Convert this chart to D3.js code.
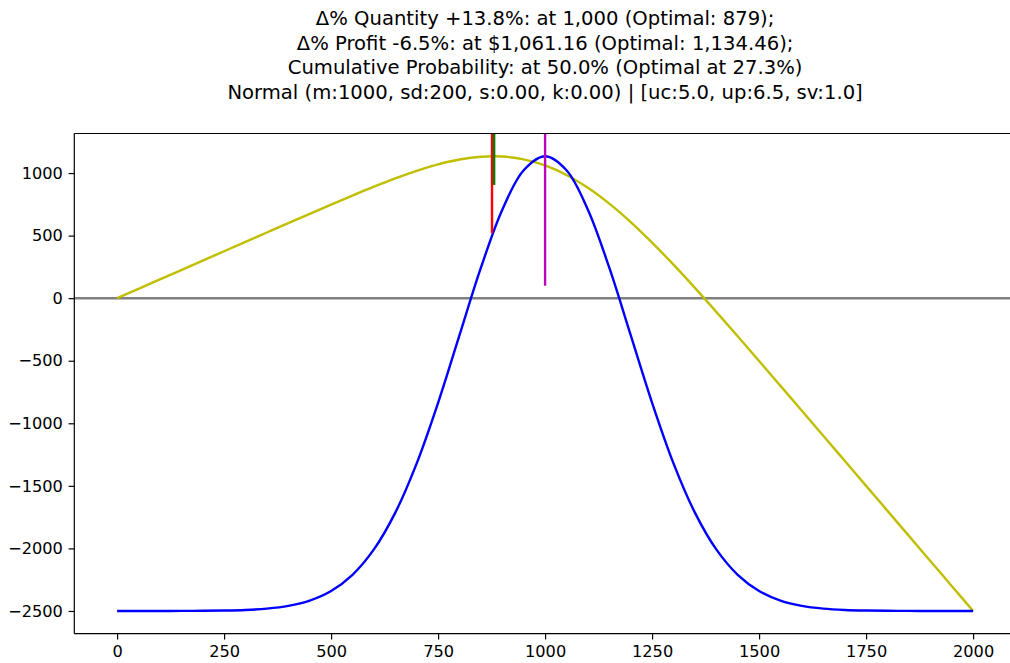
<!DOCTYPE html>
<html>
<head>
<meta charset="utf-8">
<script src="https://cdn.jsdelivr.net/npm/d3@7/dist/d3.min.js"></script>
<style>
  html, body { margin: 0; padding: 0; background: #fff; }
  svg { display: block; font-family: "DejaVu Sans", sans-serif; }
</style>
</head>
<body>
<svg id="chart" width="1010" height="663"></svg>
<script>
// ---- data ----
const titleLines = [
  "\u0394% Quantity +13.8%: at 1,000 (Optimal: 879);",
  "\u0394% Profit -6.5%: at $1,061.16 (Optimal: 1,134.46);",
  "Cumulative Probability: at 50.0% (Optimal at 27.3%)",
  "Normal (m:1000, sd:200, s:0.00, k:0.00) | [uc:5.0, up:6.5, sv:1.0]"
];
const quantities = [0,50,100,150,200,250,300,350,400,450,500,550,600,650,700,750,800,850,900,950,
  1000,1050,1100,1150,1200,1250,1300,1350,1400,1450,1500,1550,1600,1650,1700,1750,1800,1850,1900,1950,2000];
const profit = [0,75,150,225,300,375,449.9,524.8,599.6,674.0,747.8,820.3,890.7,957.2,1017.8,1069.4,1108.4,1130.7,1132.4,1110.0,
  1061.2,985.0,882.4,755.7,608.4,444.4,267.8,82.2,-109.3,-304.7,-502.2,-701.0,-900.4,-1100.2,-1300.1,-1500.0,-1700.0,-1900.0,-2100.0,-2300.0,-2500.0];
const density = [-2500,-2500,-2499.9,-2499.6,-2498.8,-2496.8,-2492.1,-2481.5,-2459.6,-2417.1,-2340.3,-2210.8,-2008.1,-1714.0,-1320.1,-836.0,-295.6,243.4,707.4,1022.6,
  1134.5,1022.6,707.4,243.4,-295.6,-836.0,-1320.1,-1714.0,-2008.1,-2210.8,-2340.3,-2417.1,-2459.6,-2481.5,-2492.1,-2496.8,-2498.8,-2499.6,-2499.9,-2500,-2500];
const markerX = [876, 881, 1000];
const markerFrom = [520, 905, 100];
const xTicks = [0,250,500,750,1000,1250,1500,1750,2000];
const yTicks = [-2500,-2000,-1500,-1000,-500,0,500,1000];

// ---- styles ----
const markerColors = ["#ff0000", "#008000", "#bf00bf"];
const profitColor = "#bfbf00";
const densityColor = "#0000ff";
const lw = 2.4;

// ---- layout ----
const svg = d3.select("#chart");
const plot = { left: 74.3, top: 133.5, bottom: 633.7, pxPerX: 0.428 };

const xExt = d3.extent(quantities);
const xPad = (xExt[1] - xExt[0]) * 0.05;
const allY = profit.concat(density);
const yExt = d3.extent(allY);
const yPad = (yExt[1] - yExt[0]) * 0.05;
const xDom = [xExt[0] - xPad, xExt[1] + xPad];
const yDom = [yExt[0] - yPad, yExt[1] + yPad];

const x = d3.scaleLinear().domain(xDom)
  .range([plot.left, plot.left + (xDom[1] - xDom[0]) * plot.pxPerX]);
const y = d3.scaleLinear().domain(yDom).range([plot.bottom, plot.top]);

const fs = 16.2;

// title (centred over the axes)
svg.append("g").selectAll("text").data(titleLines).join("text")
  .attr("x", (x.range()[0] + x.range()[1]) / 2)
  .attr("y", (d, i) => 25 + i * 24.6)
  .attr("text-anchor", "middle")
  .attr("font-size", 19.6)
  .attr("fill", "#000")
  .text(d => d);

// zero line
svg.append("line")
  .attr("x1", x.range()[0]).attr("x2", x.range()[1])
  .attr("y1", y(0)).attr("y2", y(0))
  .attr("stroke", "#808080").attr("stroke-width", lw);

const line = d3.line().x((d, i) => x(quantities[i])).y(d => y(d)).curve(d3.curveCatmullRom);

svg.append("path").datum(profit).attr("d", line)
  .attr("fill", "none").attr("stroke", profitColor).attr("stroke-width", lw);
svg.append("path").datum(density).attr("d", line)
  .attr("fill", "none").attr("stroke", densityColor).attr("stroke-width", lw);

// vertical markers
svg.append("g").selectAll("line").data(markerX).join("line")
  .attr("x1", d => x(d)).attr("x2", d => x(d))
  .attr("y1", (d, i) => y(markerFrom[i])).attr("y2", y(yDom[1]))
  .attr("stroke", (d, i) => markerColors[i]).attr("stroke-width", lw);

// axes
const tickLen = 5.7, tickPad = 5.7;
const xAxis = d3.axisBottom(x).tickValues(xTicks).tickFormat(d3.format("d"))
  .tickSizeInner(tickLen).tickSizeOuter(0).tickPadding(tickPad);
const yAxis = d3.axisLeft(y).tickValues(yTicks).tickFormat(d3.format("d"))
  .tickSizeInner(tickLen).tickSizeOuter(0).tickPadding(tickPad);

const gx = svg.append("g").attr("transform", `translate(0,${plot.bottom})`).call(xAxis);
const gy = svg.append("g").attr("transform", `translate(${plot.left},0)`).call(yAxis);
[gx, gy].forEach(g => {
  g.select(".domain").remove();
  g.selectAll(".tick line").attr("stroke", "#000").attr("stroke-width", 1.2);
  g.selectAll(".tick text").attr("font-size", fs).attr("fill", "#000")
    .attr("font-family", "DejaVu Sans, sans-serif");
});

// spines
const sp = svg.append("g").attr("fill", "none").attr("stroke", "#000").attr("stroke-width", 1.2);
sp.append("line").attr("x1", plot.left).attr("x2", plot.left).attr("y1", plot.top).attr("y2", plot.bottom);
sp.append("line").attr("x1", plot.left).attr("x2", x.range()[1]).attr("y1", plot.bottom).attr("y2", plot.bottom);
sp.append("line").attr("x1", plot.left).attr("x2", x.range()[1]).attr("y1", plot.top).attr("y2", plot.top);
sp.append("line").attr("x1", x.range()[1]).attr("x2", x.range()[1]).attr("y1", plot.top).attr("y2", plot.bottom);
</script>
</body>
</html>
